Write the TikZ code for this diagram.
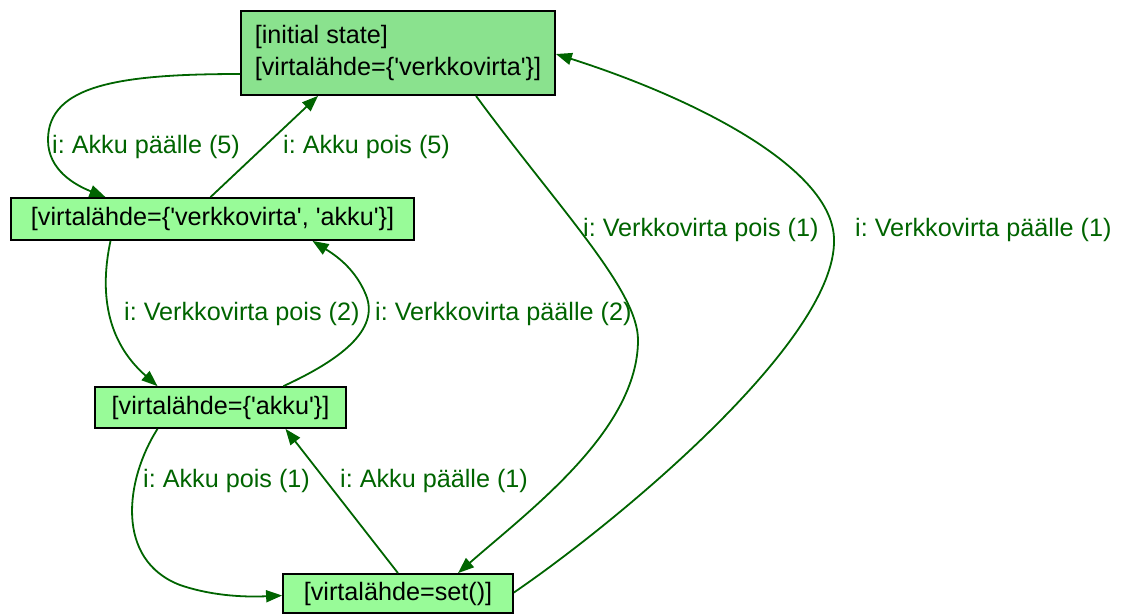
\documentclass[tikz,border=0pt]{standalone}
\usepackage{fontspec}
\newfontfamily\gvfont{Liberation Sans}[Ligatures=TeXOff]
\usetikzlibrary{arrows.meta,positioning}
\definecolor{edgegreen}{HTML}{006400}
\definecolor{initgreen}{HTML}{8AE28E}
\definecolor{stategreen}{HTML}{98FB98}
\tikzset{
    state/.style={draw, line width=1.8pt, fill=stategreen, inner sep=0pt,
        font=\gvfont\frenchspacing\fontsize{25.2}{32}\selectfont},
    edge/.style={edgegreen, line width=1.8pt, -{Triangle[length=16pt,width=12pt]}},
    lbl/.style={text=edgegreen, anchor=west, inner sep=0pt,
        font=\gvfont\frenchspacing\fontsize{25.2}{30}\selectfont}
}
\begin{document}
\begin{tikzpicture}[x=1pt, y=-1pt]
    \useasboundingbox (0,0) rectangle (1121,614);

    % States
    \node[state, fill=initgreen, align=left, minimum width=314pt, minimum height=84pt] (init) at (398,53)
        {[initial state]\\{}[virtalähde=\{'verkkovirta'\}]};
    \node[state, minimum width=403pt, minimum height=42pt] (both) at (212.5,219) {[virtalähde=\{'verkkovirta', 'akku'\}]};
    \node[state, minimum width=251pt, minimum height=41pt] (akku) at (220.5,407.5) {[virtalähde=\{'akku'\}]};
    \node[state, minimum width=230pt, minimum height=39pt] (none) at (398,593.5) {[virtalähde=set()]};

    % Transitions
    \draw[edge] ([yshift=-21pt]init.west) .. controls (120,74) and (48,85) .. (48,140)
        .. controls (48,170) and (75,185) .. ([xshift=-107pt]both.north);
    \draw[edge] ([xshift=-2pt]both.north) -- ([xshift=-80pt]init.south);
    \draw[edge] ([xshift=78pt]init.south) .. controls (560,210) and (638,290) .. (638,340)
        .. controls (638,430) and (530,510) .. ([xshift=60pt]none.north);
    \draw[edge] ([yshift=1pt]none.east) .. controls (620,520) and (836,340) .. (834,240)
        .. controls (834,170) and (700,100) .. ([yshift=-1pt]init.east);
    \draw[edge] ([xshift=-102pt]both.south) .. controls (100,290) and (105,340) .. ([xshift=-63pt]akku.north);
    \draw[edge] ([xshift=63pt]akku.north) .. controls (340,360) and (380,330) .. (366,295)
        .. controls (355,268) and (335,255) .. ([xshift=100pt]both.south);
    \draw[edge] ([xshift=-63pt]akku.south) .. controls (125,480) and (115,560) .. (180,585)
        .. controls (215,597) and (250,597) .. ([yshift=-2pt]none.west);
    \draw[edge] (none.north) -- ([xshift=65pt]akku.south);

    % Labels
    \node[lbl] (l1) at (52,147) {i: Akku päälle (5)};
    \node[lbl] (l2) at (283,147) {i: Akku pois (5)};
    \node[lbl] (l3) at (583,230) {i: Verkkovirta pois (1)};
    \node[lbl] (l4) at (855,230) {i: Verkkovirta päälle (1)};
    \node[lbl] (l5) at (124,314) {i: Verkkovirta pois (2)};
    \node[lbl] (l6) at (375,314) {i: Verkkovirta päälle (2)};
    \node[lbl] (l7) at (143,481) {i: Akku pois (1)};
    \node[lbl] (l8) at (340,481) {i: Akku päälle (1)};
\end{tikzpicture}
\end{document}
